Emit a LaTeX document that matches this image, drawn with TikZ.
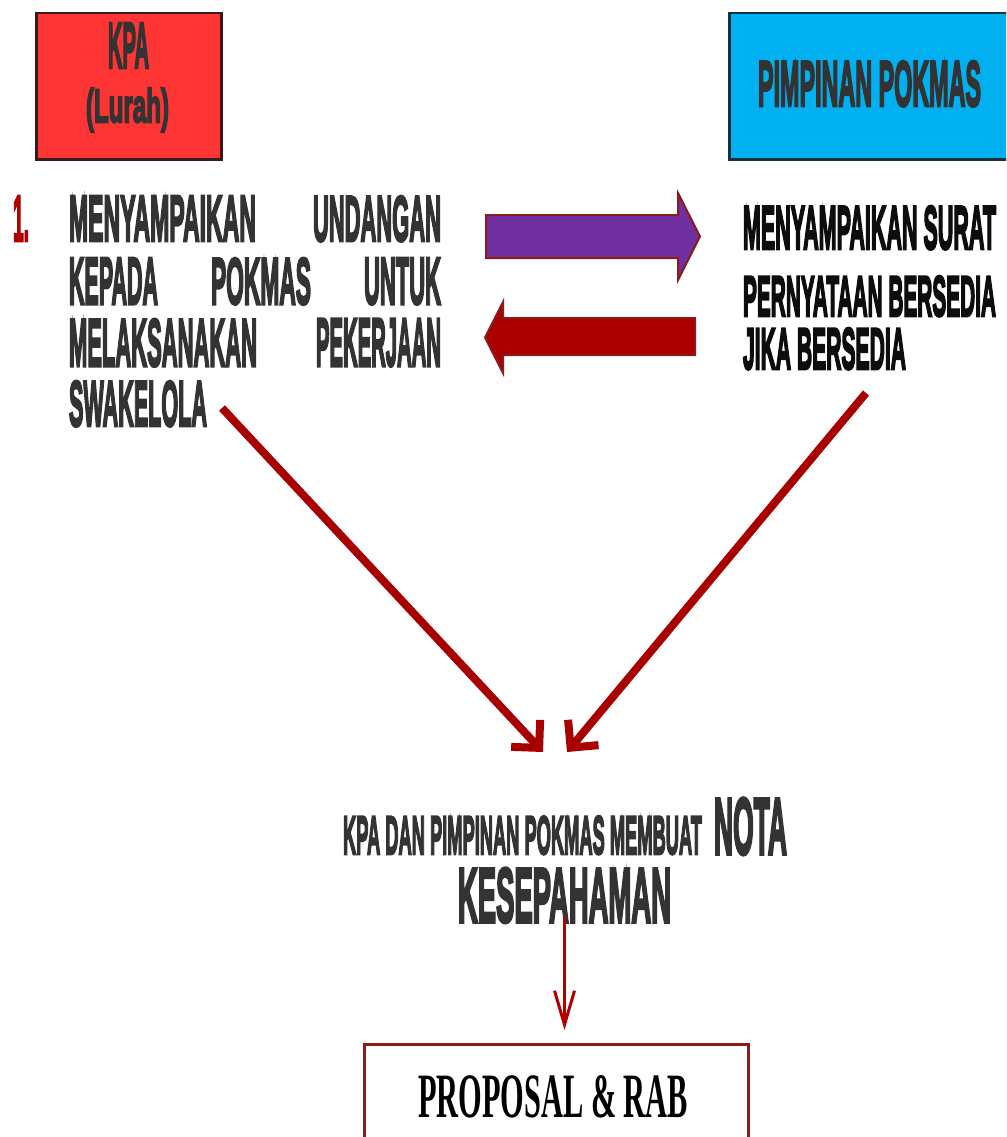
\documentclass[tikz,border=0pt]{standalone}
\usepackage{fontspec}
\usepackage{graphicx}
\setmainfont{Liberation Sans}
\newfontfamily\impf{Liberation Sans}[BoldFeatures={FakeBold=4.5}]
\newfontfamily\serf{Liberation Serif}
\usetikzlibrary{arrows.meta}
\definecolor{kpared}{HTML}{FF3535}
\definecolor{kpaedge}{HTML}{3A1A1A}
\definecolor{pokblue}{HTML}{00B0F0}
\definecolor{pokedge}{HTML}{14313F}
\definecolor{txtgray}{HTML}{333333}
\definecolor{txtblack}{HTML}{0D0D0D}
\definecolor{arrred}{HTML}{A80000}
\definecolor{blockred}{HTML}{AA0000}
\definecolor{purp}{HTML}{7030A0}
\definecolor{bord}{HTML}{8B1A1A}
\definecolor{numred}{HTML}{B00000}
\newcommand\fit[3]{\resizebox{#1}{#2}{\impf\bfseries #3}}
\newcommand\fitt[3]{\resizebox*{#1}{#2}{\impf\bfseries #3}}
\tikzset{
  txt/.style={inner sep=0pt, outer sep=0pt, anchor=north west, text=txtgray},
  boxnode/.style={anchor=north west, inner sep=0pt, line width=2.5pt},
  diagarrow/.style={draw=arrred, line width=8pt, -{Straight Barb[angle=90:28pt]}},
  blockarrow/.style={line width=2pt, draw=bord, line join=miter}
}
\begin{document}
\begin{tikzpicture}[x=1pt,y=-1pt]
\useasboundingbox (0,0) rectangle (1006,1137);
\clip (0,0) rectangle (1006,1137);
\fill[white] (0,0) rectangle (1006,1137);
% header boxes
\node[boxnode, draw=kpaedge, fill=kpared, minimum width=185pt, minimum height=146pt] (kpa) at (35,12) {};
\node[boxnode, draw=pokedge, fill=pokblue, minimum width=290pt, minimum height=146pt] (pok) at (728,12) {};
\node[txt] (kpat) at (108,23) {\fit{41pt}{45pt}{KPA}};
\node[txt] (lurah) at (86,88) {\fitt{83pt}{44pt}{(Lurah)}};
\node[txt] (pokt) at (758,61) {\fit{223pt}{45pt}{PIMPINAN POKMAS}};
% left text
\node[txt, text=numred] (num) at (13,196) {\fit{16pt}{45pt}{1.}};
\node[txt] (l1) at (69,196) {\hbox to 372pt{\fit{187pt}{45pt}{MENYAMPAIKAN}\hfill\fit{128pt}{45pt}{UNDANGAN}}};
\node[txt] (l2) at (69,258) {\hbox to 372pt{\fit{89pt}{46pt}{KEPADA}\hfill\fit{100pt}{46pt}{POKMAS}\hfill\fit{77pt}{46pt}{UNTUK}}};
\node[txt] (l3) at (69,319) {\hbox to 372pt{\fit{188pt}{47pt}{MELAKSANAKAN}\hfill\fit{125pt}{47pt}{PEKERJAAN}}};
\node[txt] (l4) at (69,381) {\fit{138pt}{45pt}{SWAKELOLA}};
% right text
\node[txt, text=txtblack] (r1) at (743,206) {\fit{253pt}{43pt}{MENYAMPAIKAN SURAT}};
\node[txt, text=txtblack] (r2) at (743,276) {\fit{253pt}{40pt}{PERNYATAAN BERSEDIA}};
\node[txt, text=txtblack] (r3) at (743,328) {\fit{163pt}{41pt}{JIKA BERSEDIA}};
% centre text
\node[txt] (c1) at (343,816) {\fit{359pt}{38pt}{KPA DAN PIMPINAN POKMAS MEMBUAT}};
\node[txt] (nota) at (714,798) {\fit{73pt}{56pt}{NOTA}};
\node[txt] (kes) at (458,868) {\fit{213pt}{54pt}{KESEPAHAMAN}};
% proposal box
\node[anchor=north west, inner sep=0pt, draw=bord, line width=3pt, fill=white, minimum width=384pt, minimum height=130pt] (prop) at (363,1043) {};
\node[txt, text=black] (propt) at (418,1075) {\resizebox{270pt}{42pt}{\serf\bfseries PROPOSAL \& RAB}};
% block arrows
\draw[blockarrow, fill=purp] (486,215) -- (678,215) -- (678,193) -- (700,236.5) -- (678,280) -- (678,258) -- (486,258) -- cycle;
\draw[blockarrow, fill=blockred] (695,318) -- (503,318) -- (503,302) -- (485,337.5) -- (503,373) -- (503,355) -- (695,355) -- cycle;
% diagonal arrows
\coordinate (ls) at (222,408);
\coordinate (le) at (543,752);
\coordinate (rs) at (866,393);
\coordinate (re) at (567,752);
\draw[diagarrow] (ls) -- (le);
\draw[diagarrow] (rs) -- (re);
% vertical arrow
\coordinate (vend) at (kes.south |- prop.north);
\draw[draw=numred, line width=3pt, -{Straight Barb[length=34pt,width=20pt]}] ([yshift=6pt]kes.south) -- ([yshift=13pt]vend);
\end{tikzpicture}
\end{document}
